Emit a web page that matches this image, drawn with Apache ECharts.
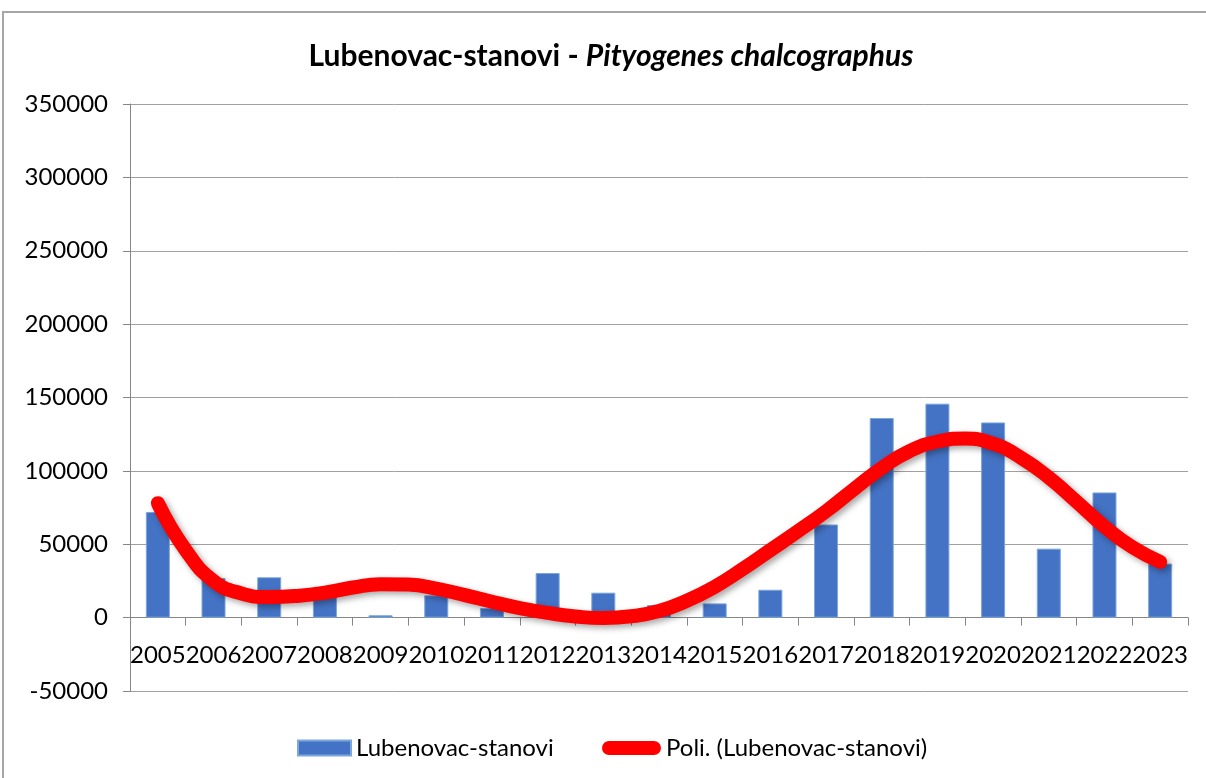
<!DOCTYPE html>
<html><head><meta charset="utf-8">
<script src="https://cdn.jsdelivr.net/npm/echarts@6/dist/echarts.min.js"></script>
<style>html,body{margin:0;padding:0;background:#fff}#c{width:1206px;height:778px}</style>
</head><body><div id="c"></div>
<script>
const years = ['2005','2006','2007','2008','2009','2010','2011','2012','2013','2014','2015','2016','2017','2018','2019','2020','2021','2022','2023'];
const counts = [72000, 27000, 27500, 17000, 1600, 15200, 6500, 30400, 17000, 8500, 9700, 19000, 63500, 136000, 145800, 133000, 47000, 85300, 36800];
// trend line at every half category (position = index of year)
const trendX = [0, 0.5, 1, 1.5, 2, 2.5, 3, 3.5, 4, 4.5, 5, 5.5, 6, 6.5, 7, 7.5, 8, 8.5, 9, 9.5, 10, 10.5, 11, 11.5, 12, 12.5, 13, 13.5, 14, 14.5, 15, 15.5, 16, 16.5, 17, 17.5, 18];
const trendY = [78000, 46000, 25000, 16500, 14000, 14800, 17000, 20500, 22800, 22500, 19800, 15500, 10800, 6500, 3200, 800, -300, 900, 4500, 11500, 21000, 33000, 46000, 59000, 72500, 87500, 102000, 113500, 120000, 122000, 118500, 109000, 95500, 79000, 62000, 48000, 38000];
const seriesNames = ['Lubenovac-stanovi', 'Poli. (Lubenovac-stanovi)'];
const titleMain = 'Lubenovac-stanovi - ';
const titleSpecies = 'Pityogenes chalcographus';

const FONT = 'Lato';
const chart = echarts.init(document.getElementById('c'), null, {renderer: 'canvas'});
chart.setOption({
  animation: false,
  backgroundColor: '#fff',
  textStyle: {fontFamily: FONT},
  graphic: [
    {type: 'rect', shape: {x: 3, y: 12, width: 1220, height: 790}, style: {fill: 'none', stroke: '#a6a6a6', lineWidth: 2}, silent: true},
    {type: 'text', x: 611, y: 56, style: {
      text: '{b|' + titleMain + '}{i|' + titleSpecies + '}',
      align: 'center', verticalAlign: 'middle',
      rich: {
        b: {fontFamily: FONT, fontWeight: 'bold', fontSize: 30, fill: '#000'},
        i: {fontFamily: FONT, fontWeight: 'bold', fontStyle: 'italic', fontSize: 30, fill: '#000'}
      }
    }}
  ],
  grid: {left: 130, right: 18, top: 104, bottom: 87, containLabel: false},
  legend: [
    {data: [{name: seriesNames[0], icon: 'rect'}], left: 292, top: 731, itemWidth: 53, itemHeight: 15, itemGap: 5,
     textStyle: {fontFamily: FONT, fontSize: 24, color: '#000'}},
    {data: [{name: seriesNames[1], icon: 'path://M7,0 L52,0 A7,7 0 0 1 52,14 L7,14 A7,7 0 0 1 7,0 Z'}], left: 597, top: 731, itemWidth: 59, itemHeight: 14,
     textStyle: {fontFamily: FONT, fontSize: 24, color: '#000'}}
  ],
  xAxis: [{
    type: 'category', data: years, boundaryGap: true,
    axisLine: {onZero: true, lineStyle: {color: '#868686', width: 1}},
    axisTick: {show: true, length: 8, lineStyle: {color: '#868686'}},
    axisLabel: {fontFamily: FONT, fontSize: 24, color: '#000', margin: -48, interval: 0}
  }, {
    type: 'value', min: -0.5, max: 18.5, show: false
  }],
  yAxis: {
    type: 'value', min: -50000, max: 350000, interval: 50000,
    axisLine: {show: true, onZero: false, lineStyle: {color: '#868686'}},
    axisTick: {show: true, length: 7, inside: false, lineStyle: {color: '#868686'}},
    axisLabel: {fontFamily: FONT, fontSize: 24, color: '#000', margin: 22, formatter: v => String(v)},
    splitLine: {show: true, lineStyle: {color: '#a0a0a0', width: 1}}
  },
  series: [
    {name: seriesNames[0], type: 'bar', data: counts, barWidth: 24,
     itemStyle: {color: '#4472c4', borderColor: '#7aa7dc', borderWidth: 1}, z: 2},
    {name: seriesNames[1], type: 'line', xAxisIndex: 1, data: trendX.map((x, i) => [x, trendY[i]]), smooth: 0.5, symbol: 'none', z: 3,
     itemStyle: {color: '#ff0000'},
     lineStyle: {color: '#ff0000', width: 14, cap: 'round', join: 'round',
       shadowColor: 'rgba(0,0,0,0.35)', shadowBlur: 6, shadowOffsetX: 3, shadowOffsetY: 3}}
  ]
});
</script></body></html>
